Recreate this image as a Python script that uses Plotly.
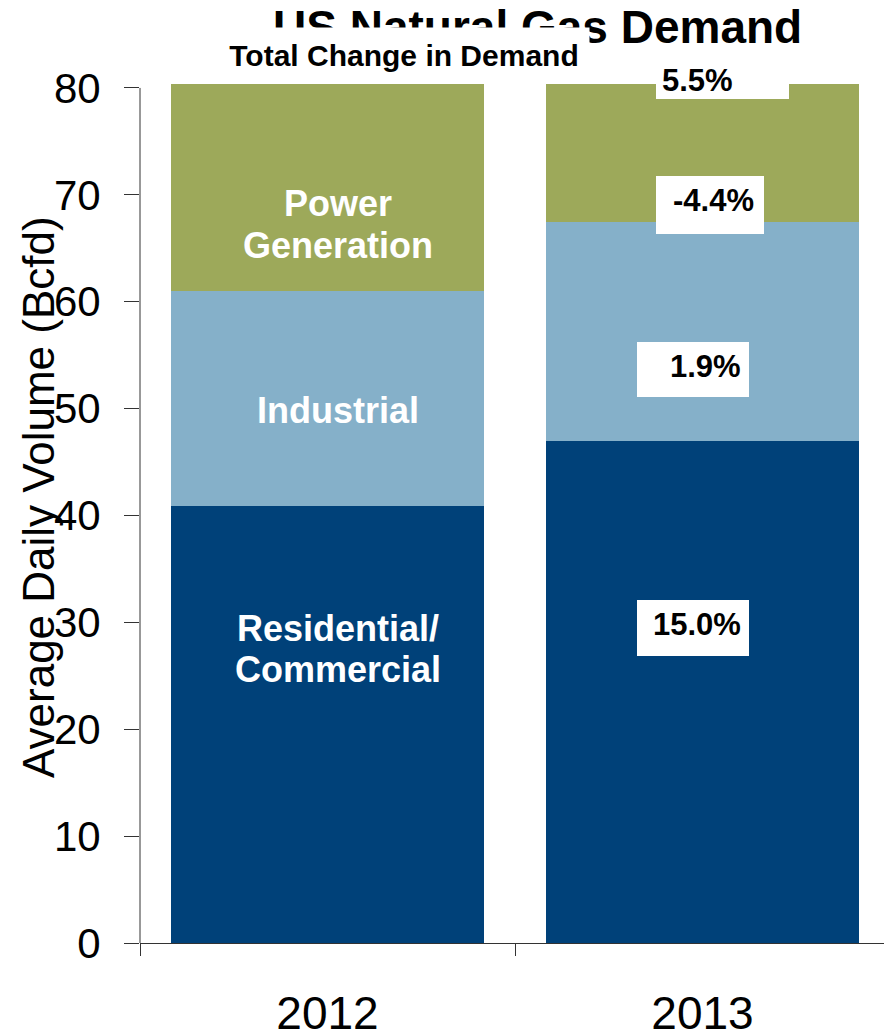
import plotly.graph_objects as go

# ---- data ----
years = ["2012", "2013"]
residential = [40.9, 47.0]
industrial = [20.1, 20.5]
power = [19.4, 12.9]
series_labels = [["Residential/", "Commercial"], ["Industrial"], ["Power", "Generation"]]
pct_changes = ["15.0%", "1.9%", "-4.4%", "5.5%"]
y_ticks = [0, 10, 20, 30, 40, 50, 60, 70, 80]

FONT = "Liberation Sans, Arial, sans-serif"
C_RES = "#004179"
C_IND = "#85B0C9"
C_POW = "#9DA95A"

# page has an 8px body margin; compensate so the plot sits where the reference has it
OFF = 8
W, H = 892 - OFF, 1031 - OFF
PLOT_L, PLOT_R, PLOT_T, PLOT_B = 140, 890, 84, 943   # page pixels
PW, PH = PLOT_R - PLOT_L, PLOT_B - PLOT_T
Y_MAX = 80.37
PX_PER_UNIT = PH / Y_MAX


def py2paper(py):
    return (PLOT_B - py) / PH


def px2paper(px):
    return (px - PLOT_L) / PW


def py2y(py):
    return (PLOT_B - py) / PX_PER_UNIT


fig = go.Figure()
for vals, col, nm in [(residential, C_RES, "Residential/Commercial"),
                      (industrial, C_IND, "Industrial"),
                      (power, C_POW, "Power Generation")]:
    fig.add_trace(go.Bar(x=years, y=vals, name=nm, marker=dict(color=col, line=dict(width=0)),
                         hoverinfo="x+y+name"))

annotations = []
# in-bar category labels (2012 bar, category index 0), one annotation per line
label_line_py = [[628, 669], [410], [203, 245]]
for lines, pys in zip(series_labels, label_line_py):
    for txt, py in zip(lines, pys):
        annotations.append(dict(x=0, y=py2y(py), xref="x", yref="y", text=f"<b>{txt}</b>",
                                showarrow=False, xshift=10, xanchor="center", yanchor="middle",
                                font=dict(family=FONT, size=36, color="white")))

# percentage boxes (2013 bar, category index 1), in page pixels
boxes_px = [(637, 749, 600, 656), (637, 749, 342, 397), (656, 764, 176, 234), (656, 789, 60, 99)]
shapes = []
for (x0, x1, t, b) in boxes_px:
    shapes.append(dict(type="rect", xref="x", yref="y",
                       x0=-0.5 + (x0 - PLOT_L) / (PW / 2), x1=-0.5 + (x1 - PLOT_L) / (PW / 2),
                       y0=py2y(b), y1=min(py2y(t), Y_MAX),
                       fillcolor="white", line=dict(width=0), layer="above"))
text_px = [(697, 624), (705, 366), (713, 200), (697, 81)]
for txt, (px, py) in zip(pct_changes, text_px):
    annotations.append(dict(x=px2paper(px), y=py2paper(py), xref="paper", yref="paper",
                            text=f"<b>{txt}</b>", showarrow=False,
                            xanchor="center", yanchor="middle",
                            font=dict(family=FONT, size=31, color="black")))

# y axis line only up to 80
shapes.append(dict(type="line", xref="paper", yref="y", x0=0, x1=0, y0=0, y1=80,
                   line=dict(color="#333333", width=1)))

# y axis title
annotations.append(dict(x=px2paper(38), y=py2paper(497), xref="paper", yref="paper",
                        xanchor="center", yanchor="middle",
                        text="Average Daily Volume (Bcfd)", textangle=-90, showarrow=False,
                        font=dict(family=FONT, size=44, color="black")))
# main title (partly covered by the subtitle box)
annotations.append(dict(x=px2paper(537), y=py2paper(27), xref="paper", yref="paper",
                        xanchor="center", yanchor="middle",
                        text="<b>US Natural Gas Demand</b>", showarrow=False,
                        font=dict(family=FONT, size=46, color="black")))
# subtitle with white box covering title
annotations.append(dict(x=px2paper(404), y=py2paper(50), xref="paper", yref="paper",
                        xanchor="center", yanchor="middle",
                        text="<b>Total Change in Demand</b>", showarrow=False,
                        width=370, height=44, bgcolor="white", valign="bottom", borderpad=0,
                        font=dict(family=FONT, size=30, color="black")))

fig.update_layout(
    width=W, height=H,
    barmode="stack", bargap=0.165,
    showlegend=False,
    plot_bgcolor="white", paper_bgcolor="white",
    margin=dict(l=PLOT_L - OFF, r=892 - PLOT_R, t=PLOT_T - OFF, b=1031 - PLOT_B,
                autoexpand=False),
    font=dict(family=FONT, color="black"),
    shapes=shapes, annotations=annotations,
)
fig.update_yaxes(range=[0, Y_MAX], tickvals=y_ticks, showgrid=False, zeroline=False,
                 showline=False, ticks="outside", ticklen=15, tickcolor="#333333",
                 tickfont=dict(size=42, family=FONT), ticklabelstandoff=15, automargin=False)
fig.update_xaxes(type="category", range=[-0.5, 1.5], showgrid=False, showline=True,
                 linecolor="#333333", ticks="outside", tickson="boundaries", ticklen=12,
                 tickcolor="#333333", tickfont=dict(size=46, family=FONT),
                 ticklabelstandoff=30, automargin=False)

fig.write_html("out.html")
